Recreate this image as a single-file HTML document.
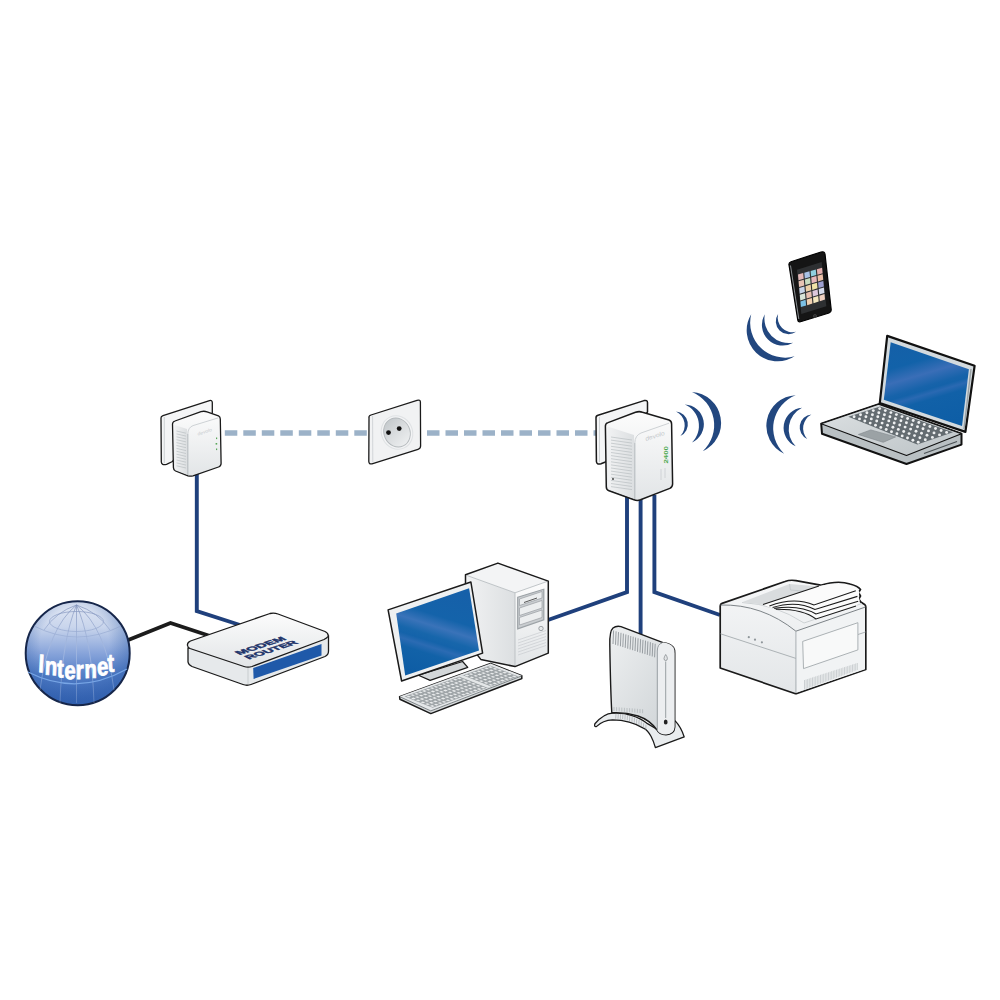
<!DOCTYPE html>
<html><head><meta charset="utf-8"><style>
html,body{margin:0;padding:0;background:#fff;overflow:hidden;}
svg{display:block;}
</style></head><body>
<svg width="1000" height="1000" viewBox="0 0 1000 1000">
<rect width="1000" height="1000" fill="#ffffff"/>
<defs>
<linearGradient id="globeG" x1="0" y1="0" x2="0" y2="1">
 <stop offset="0" stop-color="#e2e8f4"/>
 <stop offset="0.25" stop-color="#c9d5ec"/>
 <stop offset="0.5" stop-color="#88a4da"/>
 <stop offset="0.7" stop-color="#5580c8"/>
 <stop offset="1" stop-color="#3462b2"/>
</linearGradient>
<radialGradient id="globeR" cx="0.47" cy="0.4" r="0.55">
 <stop offset="0.6" stop-color="#2a5aa8" stop-opacity="0"/>
 <stop offset="1" stop-color="#2a5aa8" stop-opacity="0.45"/>
</radialGradient>
<linearGradient id="gridG" gradientUnits="userSpaceOnUse" x1="0" y1="603" x2="0" y2="705">
 <stop offset="0" stop-color="#7f90b8" stop-opacity="0.9"/>
 <stop offset="0.35" stop-color="#9aaed6" stop-opacity="0.8"/>
 <stop offset="0.6" stop-color="#c6d4ef" stop-opacity="0.5"/>
 <stop offset="1" stop-color="#c6d4ef" stop-opacity="0.3"/>
</linearGradient>
<linearGradient id="recG" x1="0.3" y1="0" x2="0.6" y2="1">
 <stop offset="0" stop-color="#c4c9cc"/>
 <stop offset="0.5" stop-color="#dadddf"/>
 <stop offset="1" stop-color="#eceeef"/>
</linearGradient>
<linearGradient id="whiteG" x1="0" y1="0" x2="0" y2="1">
 <stop offset="0" stop-color="#fcfcfc"/>
 <stop offset="1" stop-color="#e2e5e7"/>
</linearGradient>
<linearGradient id="sideG" x1="0" y1="0" x2="1" y2="0">
 <stop offset="0" stop-color="#f1f2f3"/>
 <stop offset="1" stop-color="#dcdfe1"/>
</linearGradient>
<linearGradient id="greyG" x1="0" y1="0" x2="1" y2="1">
 <stop offset="0" stop-color="#eef0f1"/>
 <stop offset="1" stop-color="#cdd2d5"/>
</linearGradient>
<linearGradient id="screenG" x1="0.35" y1="0" x2="0.65" y2="1">
 <stop offset="0" stop-color="#1460a8"/>
 <stop offset="0.22" stop-color="#1262a9"/>
 <stop offset="0.38" stop-color="#3a6eb7"/>
 <stop offset="0.52" stop-color="#1763aa"/>
 <stop offset="0.56" stop-color="#1462a9"/>
 <stop offset="0.61" stop-color="#2a69b2"/>
 <stop offset="0.68" stop-color="#1161a8"/>
 <stop offset="1" stop-color="#0e5ea6"/>
</linearGradient>
<linearGradient id="monG" x1="0.65" y1="0" x2="0.35" y2="1">
 <stop offset="0" stop-color="#1660a9"/>
 <stop offset="0.33" stop-color="#1463aa"/>
 <stop offset="0.45" stop-color="#3a73b9"/>
 <stop offset="0.56" stop-color="#1766ab"/>
 <stop offset="0.62" stop-color="#1463aa"/>
 <stop offset="0.68" stop-color="#2b6bb3"/>
 <stop offset="0.76" stop-color="#1262a8"/>
 <stop offset="1" stop-color="#0e5da5"/>
</linearGradient>
<linearGradient id="silverG" x1="0" y1="0" x2="1" y2="1">
 <stop offset="0" stop-color="#dde1e3"/>
 <stop offset="1" stop-color="#bcc3c6"/>
</linearGradient>
<linearGradient id="printG" x1="0" y1="0" x2="0" y2="1">
 <stop offset="0" stop-color="#f6f7f8"/>
 <stop offset="1" stop-color="#e3e6e8"/>
</linearGradient>
</defs>
<polyline points="127.0,640.5 170.5,623.0 210.0,636.0" fill="none" stroke="#1c1c1c" stroke-width="3.8"/>
<polyline points="196.8,470.0 196.8,611.0 240.0,625.0" fill="none" stroke="#1f407c" stroke-width="3.9"/>
<polyline points="627.0,495.0 627.0,592.0 548.0,620.0" fill="none" stroke="#1f407c" stroke-width="3.9"/>
<polyline points="640.6,495.0 640.6,634.0" fill="none" stroke="#1f407c" stroke-width="3.9"/>
<polyline points="654.4,495.0 654.4,592.0 720.0,615.0" fill="none" stroke="#1f407c" stroke-width="3.9"/>
<line x1="224.8" y1="433" x2="368" y2="433" stroke="#9cb2c8" stroke-width="5.5" stroke-dasharray="12.5 6"/>
<line x1="427" y1="433" x2="598" y2="433" stroke="#9cb2c8" stroke-width="5.5" stroke-dasharray="12.5 6"/>
<circle cx="77.7" cy="653.2" r="52" fill="url(#globeG)"/>
<circle cx="77.7" cy="653.2" r="52" fill="url(#globeR)" stroke="#16264a" stroke-width="2"/>
<g fill="none" stroke="url(#gridG)" stroke-width="0.8"><ellipse cx="76.5" cy="621.5" rx="27" ry="10"/><path d="M34,626 Q77,648 121,626"/><path d="M76.5,605 L76.5,703"/><path d="M76.5,605 Q62,640 60,703"/><path d="M76.5,605 Q92,640 94,703"/><path d="M76.5,605 Q48,628 40,690"/><path d="M76.5,605 Q106,628 114,690"/><path d="M76.5,605 Q56,612 44,630"/><path d="M76.5,605 Q98,612 110,630"/></g>
<path d="M28,672 Q77,697 127,669" fill="none" stroke="#78a6e6" stroke-width="1.2"/>
<text transform="scale(0.8,1)" x="47.35 55.50 70.94 80.26 94.57 105.50 121.51 134.69" y="672.00 674.50 677.25 679.00 679.40 678.00 675.50 672.00" rotate="4 3 2 1 0 -1 -2 -3" font-family="Liberation Sans" font-weight="bold" font-size="25.5" fill="#fff" stroke="#fff" stroke-width="0.8">Internet</text>
<path d="M188,648 L188,662 Q188.5,665 192,666.5 L243,684.5 Q247,686 251,684.5 L325,656.5 Q328.5,655 328.5,651 L328.5,636 Z" fill="#e6e9eb" stroke="#1a1a1a" stroke-width="1.3"/>
<path d="M187.5,645.5 Q187,642.5 190.5,641 L270,613.5 Q274,612.5 278,614 L325,631.5 Q329,633.5 328,636.5 Q327,638 324,639.5 L252,666.5 Q248,667.8 244,666.5 L190,648.5 Q187.8,647.5 187.5,645.5 Z" fill="url(#whiteG)" stroke="#1a1a1a" stroke-width="1.3"/>
<line x1="248" y1="668" x2="248" y2="684" stroke="#c0c5c8" stroke-width="0.8"/>
<polygon points="253.2,668.0 321.5,644.0 321.5,655.5 253.6,679.0" fill="#1f59a9"/>
<g font-family="Liberation Sans" font-weight="bold" font-size="9.3" fill="#1d3369" stroke="#1d3369" stroke-width="0.55"><text transform="matrix(0.95,-0.31,0.88,0.47,239.6,655)" textLength="50" lengthAdjust="spacingAndGlyphs">MODEM</text><text transform="matrix(0.95,-0.31,0.88,0.47,249,659.5)" textLength="52.5" lengthAdjust="spacingAndGlyphs">ROUTER</text></g>
<path d="M161,418 Q160.8,416.3 163,415.6 L209.5,400.6 Q212.2,399.9 212.3,402.5 L212.3,413 L172.5,461.5 L166.5,464.3 Q161.5,465.5 161.3,462 Z" fill="#f4f5f6" stroke="#1a1a1a" stroke-width="1.3" stroke-linejoin="round"/>
<path d="M172.5,424 Q172.5,421.8 175,421 L201,411.7 Q204,410.8 207,411.8 L218.5,415.8 Q220.3,416.5 220.3,419 L221.1,463.5 Q221.1,466 218.5,467 L193,475.8 Q190.5,476.6 188,475.8 L175.5,471 Q173.4,470 173.4,467.5 Z" fill="url(#whiteG)" stroke="#1a1a1a" stroke-width="1.3" stroke-linejoin="round"/>
<path d="M174.5,425 L187,429 L187,474.5 L175,469.5 Z" fill="url(#sideG)" stroke="none"/>
<path d="M176.5,431.0 L186,433.2 M176.5,433.9 L186,436.1 M176.5,436.8 L186,439.0 M176.5,439.7 L186,441.9 M176.5,442.6 L186,444.8 M176.5,445.5 L186,447.7 M176.5,448.4 L186,450.6 M176.5,451.3 L186,453.5 M176.5,454.2 L186,456.4 M176.5,457.1 L186,459.3 M176.5,460.0 L186,462.2 M176.5,462.9 L186,465.1 M176.5,465.8 L186,468.0 " fill="none" stroke="#b9bec2" stroke-width="0.7"/>
<path d="M187.8,475 L187.8,434" fill="none" stroke="#b3b9bd" stroke-width="1.1"/>
<path d="M187.8,434 Q188,427.5 193,425.6 L218.5,417.8" fill="none" stroke="#c8cdd0" stroke-width="0.9"/>
<line x1="164.3" y1="417" x2="164.3" y2="463" stroke="#c4c9cc" stroke-width="0.8"/>
<g fill="#5aa85a"><rect x="216" y="437.5" width="1.2" height="1.6"/><rect x="215.6" y="443" width="1.6" height="1.6"/><rect x="216" y="448.5" width="1.2" height="1.6"/></g>
<text font-family="Liberation Sans" font-style="italic" font-size="4.5" fill="#c6cacd" transform="translate(198,435.5) rotate(-18)" textLength="15" lengthAdjust="spacingAndGlyphs">devolo</text>
<path d="M596,418 Q595.8,416 598,415.3 L644,400.6 Q647.4,399.8 647.5,402.5 L647.5,412 L605.4,462 L601,463.8 Q596.6,465 596.4,461.5 Z" fill="#f4f5f6" stroke="#1a1a1a" stroke-width="1.5" stroke-linejoin="round"/>
<path d="M605.4,426 Q605.4,423.4 608,422.6 L635.5,412.3 Q639,411 642.5,412.2 L669,420 Q671.6,421 671.6,424 L672.6,484 Q672.6,487 669.8,488.4 L640.5,499.8 Q637.2,501 634,499.8 L609,490.8 Q606.3,489.8 606.3,487 Z" fill="url(#whiteG)" stroke="#1a1a1a" stroke-width="1.5" stroke-linejoin="round"/>
<path d="M607.5,426.5 L634,435 L634,498.5 L608,489 Z" fill="url(#sideG)" stroke="none"/>
<path d="M611,437.0 L632,440.0 M611,440.1 L632,443.1 M611,443.2 L632,446.2 M611,446.3 L632,449.3 M611,449.4 L632,452.4 M611,452.5 L632,455.5 M611,455.6 L632,458.6 M611,458.7 L632,461.7 M611,461.8 L632,464.8 M611,464.9 L632,467.9 M611,468.0 L632,471.0 M611,471.1 L632,474.1 M611,474.2 L632,477.2 M611,477.3 L632,480.3 M611,480.4 L632,483.4 M611,483.5 L632,486.5 M611,486.6 L632,489.6 " fill="none" stroke="#b9bec2" stroke-width="0.7"/>
<path d="M634.8,499 L634.8,443" fill="none" stroke="#b3b9bd" stroke-width="1.1"/>
<path d="M634.8,443 Q635,435.5 641,433 L669,423.2" fill="none" stroke="#c8cdd0" stroke-width="0.9"/>
<line x1="599.5" y1="417" x2="599.5" y2="462" stroke="#c4c9cc" stroke-width="0.8"/>
<text x="0" y="0" font-family="Liberation Sans" font-weight="bold" font-size="5.5" fill="#4aa84e" transform="translate(668.3,463.5) rotate(-90)" textLength="17.5" lengthAdjust="spacingAndGlyphs">2400</text>
<text font-family="Liberation Sans" font-style="italic" font-size="6" fill="#c3c7ca" transform="translate(646,441) rotate(-18)" textLength="20" lengthAdjust="spacingAndGlyphs">devolo</text>
<g fill="none" stroke="#c9cdd0" stroke-width="0.8"><path d="M661,469 L661,480"/><path d="M665,468 L665,478"/></g>
<circle cx="613" cy="479" r="0.9" fill="#333"/>
<path d="M369,418 Q368.5,415.8 371,415 L417,400.3 Q420.3,399.4 420.4,402 L420.6,446 Q420.6,448.5 418,449.3 L372,463.8 Q369,464.6 368.8,461.5 Z" fill="#f1f2f3" stroke="#1a1a1a" stroke-width="1.3"/>
<line x1="372.6" y1="416" x2="372.8" y2="462.5" stroke="#c9cdd0" stroke-width="0.8"/>
<ellipse cx="397" cy="432.5" rx="15.5" ry="17" transform="rotate(-25 397 432.5)" fill="#f3f4f5" stroke="#dfe2e4" stroke-width="1"/>
<ellipse cx="397" cy="432.5" rx="13" ry="14.8" transform="rotate(-25 397 432.5)" fill="url(#recG)" stroke="#b4b9bc" stroke-width="0.9"/>
<circle cx="388.5" cy="432.6" r="2.4" fill="#111"/><circle cx="399.2" cy="428.6" r="2.4" fill="#111"/>
<path d="M676.00,411.60 A12.80,12.80 0 0 1 680.40,436.00 A15.22,15.22 0 0 0 676.00,411.60Z" fill="#22477f"/>
<path d="M684.80,404.40 A19.85,19.85 0 0 1 692.00,442.40 A23.28,23.28 0 0 0 684.80,404.40Z" fill="#22477f"/>
<path d="M692.00,392.00 A31.00,31.00 0 0 1 702.80,451.20 A35.70,35.70 0 0 0 692.00,392.00Z" fill="#22477f"/>
<path d="M778.10,314.00 A12.81,12.81 0 0 0 796.00,331.80 A14.81,14.81 0 0 1 778.10,314.00Z" fill="#22477f"/>
<path d="M764.80,314.30 A20.74,20.74 0 0 0 793.20,342.70 A24.46,24.46 0 0 1 764.80,314.30Z" fill="#22477f"/>
<path d="M751.20,314.30 A30.96,30.96 0 0 0 794.60,356.30 A34.88,34.88 0 0 1 751.20,314.30Z" fill="#22477f"/>
<path d="M811.40,414.50 A12.85,12.85 0 0 0 807.20,439.00 A15.73,15.73 0 0 1 811.40,414.50Z" fill="#22477f"/>
<path d="M802.00,407.80 A20.12,20.12 0 0 0 795.70,446.30 A24.07,24.07 0 0 1 802.00,407.80Z" fill="#22477f"/>
<path d="M795.70,395.20 A30.70,30.70 0 0 0 784.10,453.70 A35.37,35.37 0 0 1 795.70,395.20Z" fill="#22477f"/>
<path d="M789,265 Q788.5,262.5 791,261.7 L821,252 Q824.5,251 825,254 L831.2,309.5 Q831.5,312 829,313 L800.5,321.7 Q798,322.4 797.7,319.6 Z" fill="#151515" stroke="#000" stroke-width="1.2"/>
<path d="M790.5,265.5 L798.8,319" stroke="#8a8f92" stroke-width="1"/>
<polygon points="797.0,269.7 821.7,262.0 826.3,306.2 801.3,313.9" fill="#2e3032"/>
<polygon points="798.0,274.6 803.2,273.1 803.7,278.7 798.5,280.2" fill="#e3b8b8"/>
<polygon points="804.3,272.8 809.5,271.3 810.0,276.9 804.8,278.4" fill="#a9c2e6"/>
<polygon points="810.6,271.0 815.8,269.5 816.3,275.0 811.1,276.6" fill="#8fcfe0"/>
<polygon points="816.9,269.2 822.1,267.7 822.6,273.2 817.4,274.8" fill="#e4b0b0"/>
<polygon points="798.6,281.3 803.8,279.8 804.3,285.4 799.1,287.0" fill="#e8c4b4"/>
<polygon points="804.9,279.5 810.1,277.9 810.6,283.5 805.4,285.1" fill="#c8dcc0"/>
<polygon points="811.2,277.6 816.4,276.1 816.9,281.7 811.7,283.2" fill="#e6b8bc"/>
<polygon points="817.5,275.8 822.7,274.3 823.2,279.8 818.0,281.4" fill="#ecc0a8"/>
<polygon points="799.2,288.0 804.4,286.5 804.9,292.1 799.7,293.7" fill="#c8d4e8"/>
<polygon points="805.5,286.2 810.7,284.6 811.2,290.2 806.0,291.8" fill="#ecd0a8"/>
<polygon points="811.8,284.3 817.0,282.7 817.5,288.3 812.3,289.9" fill="#f0e4a8"/>
<polygon points="818.1,282.4 823.3,280.9 823.8,286.4 818.6,288.0" fill="#9ea0d0"/>
<polygon points="799.8,294.7 805.0,293.2 805.5,298.8 800.3,300.4" fill="#d8e4d8"/>
<polygon points="806.1,292.9 811.3,291.3 811.8,296.9 806.6,298.5" fill="#e8c0b0"/>
<polygon points="812.4,291.0 817.6,289.4 818.1,294.9 812.9,296.6" fill="#dcc8dc"/>
<polygon points="818.7,289.1 823.9,287.5 824.4,293.0 819.2,294.6" fill="#d8dcec"/>
<polygon points="800.4,301.5 805.6,299.8 806.1,305.5 800.9,307.1" fill="#7cc0e4"/>
<polygon points="806.7,299.5 811.9,297.9 812.4,303.5 807.2,305.2" fill="#f0d0b0"/>
<polygon points="813.0,297.6 818.2,296.0 818.7,301.6 813.5,303.2" fill="#f4e8c0"/>
<polygon points="819.3,295.7 824.5,294.1 825.0,299.6 819.8,301.3" fill="#f0d0c0"/>
<circle cx="815" cy="316" r="1.6" fill="#2a2a2a" stroke="#555" stroke-width="0.5"/>
<polygon points="821.2,423.7 878.6,404.3 961.5,433.8 961.5,444.6 906.5,464.0 822.0,433.8" fill="#b9c0c3" stroke="#111" stroke-width="2" stroke-linejoin="round"/>
<polygon points="821.2,423.7 878.6,404.3 961.5,433.8 906.5,455.5" fill="url(#silverG)" stroke="#111" stroke-width="1.1" stroke-linejoin="round"/>
<path d="M924,453.5 L957,441.5" stroke="#4a5054" stroke-width="1.1"/>
<polygon points="887.2,335.9 974.6,365.8 965.4,431.9 879.8,403.0" fill="#d3dade" stroke="#111" stroke-width="2.2" stroke-linejoin="round"/>
<polygon points="890.7,342.2 968.9,369.3 962.0,426.1 883.8,399.7" fill="url(#screenG)"/>
<path d="M971,369 L964,429" stroke="#99a1a5" stroke-width="1.4"/>
<polygon points="880.1,406.6 953.0,432.2 917.3,444.6 848.3,416.7" fill="#646c71"/>
<g fill="#eef0f1"><circle cx="879.7" cy="408.6" r="1.45"/><circle cx="873.3" cy="410.6" r="1.45"/><circle cx="866.9" cy="412.7" r="1.45"/><circle cx="860.5" cy="414.7" r="1.45"/><circle cx="854.1" cy="416.8" r="1.45"/><circle cx="885.3" cy="410.6" r="1.45"/><circle cx="878.8" cy="412.7" r="1.45"/><circle cx="872.4" cy="414.7" r="1.45"/><circle cx="865.9" cy="416.8" r="1.45"/><circle cx="859.5" cy="418.9" r="1.45"/><circle cx="890.9" cy="412.6" r="1.45"/><circle cx="884.4" cy="414.7" r="1.45"/><circle cx="877.8" cy="416.8" r="1.45"/><circle cx="871.3" cy="418.9" r="1.45"/><circle cx="864.8" cy="421.0" r="1.45"/><circle cx="896.4" cy="414.6" r="1.45"/><circle cx="889.9" cy="416.7" r="1.45"/><circle cx="883.3" cy="418.9" r="1.45"/><circle cx="876.7" cy="421.0" r="1.45"/><circle cx="870.2" cy="423.1" r="1.45"/><circle cx="902.0" cy="416.6" r="1.45"/><circle cx="895.4" cy="418.7" r="1.45"/><circle cx="888.8" cy="420.9" r="1.45"/><circle cx="882.1" cy="423.1" r="1.45"/><circle cx="875.5" cy="425.3" r="1.45"/><circle cx="907.6" cy="418.5" r="1.45"/><circle cx="900.9" cy="420.8" r="1.45"/><circle cx="894.2" cy="423.0" r="1.45"/><circle cx="887.5" cy="425.2" r="1.45"/><circle cx="880.8" cy="427.4" r="1.45"/><circle cx="913.2" cy="420.5" r="1.45"/><circle cx="906.4" cy="422.8" r="1.45"/><circle cx="899.7" cy="425.0" r="1.45"/><circle cx="892.9" cy="427.3" r="1.45"/><circle cx="886.2" cy="429.5" r="1.45"/><circle cx="918.8" cy="422.5" r="1.45"/><circle cx="911.9" cy="424.8" r="1.45"/><circle cx="905.1" cy="427.1" r="1.45"/><circle cx="898.3" cy="429.4" r="1.45"/><circle cx="891.5" cy="431.7" r="1.45"/><circle cx="924.3" cy="424.5" r="1.45"/><circle cx="917.5" cy="426.8" r="1.45"/><circle cx="910.6" cy="429.1" r="1.45"/><circle cx="903.7" cy="431.5" r="1.45"/><circle cx="896.9" cy="433.8" r="1.45"/><circle cx="929.9" cy="426.5" r="1.45"/><circle cx="923.0" cy="428.8" r="1.45"/><circle cx="916.0" cy="431.2" r="1.45"/><circle cx="909.1" cy="433.6" r="1.45"/><circle cx="902.2" cy="435.9" r="1.45"/><circle cx="935.5" cy="428.5" r="1.45"/><circle cx="928.5" cy="430.9" r="1.45"/><circle cx="921.5" cy="433.3" r="1.45"/><circle cx="914.5" cy="435.6" r="1.45"/><circle cx="907.5" cy="438.0" r="1.45"/><circle cx="941.1" cy="430.5" r="1.45"/><circle cx="934.0" cy="432.9" r="1.45"/><circle cx="927.0" cy="435.3" r="1.45"/><circle cx="919.9" cy="437.7" r="1.45"/><circle cx="912.9" cy="440.2" r="1.45"/><circle cx="946.6" cy="432.4" r="1.45"/><circle cx="939.5" cy="434.9" r="1.45"/><circle cx="932.4" cy="437.4" r="1.45"/><circle cx="925.3" cy="439.8" r="1.45"/><circle cx="918.2" cy="442.3" r="1.45"/></g>
<polygon points="858.4,434.5 870.8,429.9 895.6,436.9 883.2,442.3" fill="#9ba2a5" stroke="#7d8589" stroke-width="0.6"/>
<polygon points="465.5,574.8 515.0,592.8 515.0,666.6 480.8,659.4 465.5,640.0" fill="url(#sideG)"/>
<polygon points="515.0,592.8 548.3,581.1 548.3,653.1 515.0,666.6" fill="url(#whiteG)"/>
<polygon points="465.5,574.8 497.9,563.1 548.3,581.1 515.0,592.8" fill="#f3f4f5"/>
<path d="M467,575.5 L515,592.8 L547,581.5 M515,592.8 L515,666" fill="none" stroke="#b9bec2" stroke-width="0.9"/>
<polygon points="465.5,574.8 497.9,563.1 548.3,581.1 548.3,653.1 515.0,666.6 480.8,659.4 465.5,640.0" fill="none" stroke="#1a1a1a" stroke-width="1.5" stroke-linejoin="round"/>
<polygon points="517.7,597.3 543.8,589.2 543.8,619.8 517.7,628.8" fill="#c9cdd0" stroke="#9ca2a6" stroke-width="1.2"/>
<polygon points="519.5,599.0 542.0,591.5 542.0,598.0 519.5,605.5" fill="#eceeef" stroke="#8e9498" stroke-width="0.6"/>
<polygon points="519.5,608.0 542.0,600.5 542.0,608.0 519.5,615.5" fill="#eceeef" stroke="#8e9498" stroke-width="0.6"/>
<polygon points="519.5,617.5 542.0,610.0 542.0,617.5 519.5,625.0" fill="#eceeef" stroke="#8e9498" stroke-width="0.6"/>
<path d="M524,602.5 L537,598" stroke="#555" stroke-width="1"/>
<circle cx="541" cy="628.5" r="2.2" fill="#e8eaeb" stroke="#8a9094" stroke-width="0.8"/>
<g stroke="#c8ccd0" stroke-width="0.7"><line x1="518" y1="640.0" x2="546" y2="630.5"/><line x1="518" y1="643.0" x2="546" y2="633.5"/><line x1="518" y1="646.0" x2="546" y2="636.5"/><line x1="518" y1="649.0" x2="546" y2="639.5"/><line x1="518" y1="652.0" x2="546" y2="642.5"/><line x1="518" y1="655.0" x2="546" y2="645.5"/></g>
<polygon points="418.4,675.2 462.6,661.5 467.8,667.4 430.1,680.4" fill="#d3d7d9" stroke="#1a1a1a" stroke-width="1.2" stroke-linejoin="round"/>
<polygon points="388.1,609.9 470.9,582.0 482.6,653.1 401.6,681.0" fill="#eef0f1" stroke="#1a1a1a" stroke-width="1.5" stroke-linejoin="round"/>
<polygon points="396.2,613.5 469.1,588.3 479.0,650.4 405.2,675.6" fill="url(#monG)"/>
<polygon points="399.6,696.6 490.6,663.5 521.8,675.8 521.8,678.6 430.8,713.6 399.9,699.3" fill="#d5d9db" stroke="#1a1a1a" stroke-width="1.5" stroke-linejoin="round"/>
<polygon points="399.6,696.6 490.6,663.5 521.8,675.8 430.8,710.9" fill="#e4e7e9"/>
<path d="M400,696.8 L430.8,710.9 L521.5,676" fill="none" stroke="#555b5f" stroke-width="0.7"/>
<polygon points="404.5,696.4 490.0,665.4 518.5,676.5 432.7,707.7" fill="#9fa5a8"/>
<path d="M406.4,696.5 L408.6,695.7 L411.2,696.8 L409.0,697.5Z M411.1,698.4 L413.3,697.6 L415.9,698.6 L413.7,699.4Z M415.8,700.3 L418.0,699.5 L420.6,700.5 L418.4,701.3Z M420.5,702.2 L422.7,701.4 L425.3,702.4 L423.1,703.2Z M425.2,704.0 L427.4,703.3 L430.0,704.3 L427.8,705.1Z M429.9,705.9 L432.1,705.1 L434.7,706.2 L432.5,707.0Z M410.3,695.1 L412.5,694.3 L415.0,695.4 L412.9,696.1Z M415.0,697.0 L417.2,696.2 L419.7,697.2 L417.6,698.0Z M419.7,698.9 L421.9,698.1 L424.5,699.1 L422.3,699.9Z M424.4,700.7 L426.6,700.0 L429.2,701.0 L427.0,701.8Z M429.1,702.6 L431.3,701.8 L433.9,702.9 L431.7,703.7Z M433.8,704.5 L436.0,703.7 L438.6,704.8 L436.4,705.5Z M414.2,693.7 L416.3,692.9 L418.9,693.9 L416.8,694.7Z M418.9,695.6 L421.0,694.8 L423.6,695.8 L421.5,696.6Z M423.6,697.4 L425.8,696.7 L428.3,697.7 L426.2,698.5Z M428.3,699.3 L430.5,698.5 L433.1,699.6 L430.9,700.4Z M433.0,701.2 L435.2,700.4 L437.8,701.5 L435.6,702.2Z M437.7,703.1 L439.9,702.3 L442.5,703.3 L440.3,704.1Z M418.1,692.3 L420.2,691.5 L422.8,692.5 L420.7,693.3Z M422.8,694.2 L424.9,693.4 L427.5,694.4 L425.4,695.2Z M427.5,696.0 L429.6,695.3 L432.2,696.3 L430.1,697.1Z M432.2,697.9 L434.4,697.1 L436.9,698.2 L434.8,698.9Z M436.9,699.8 L439.1,699.0 L441.7,700.0 L439.5,700.8Z M441.6,701.7 L443.8,700.9 L446.4,701.9 L444.2,702.7Z M422.0,690.9 L424.1,690.1 L426.7,691.1 L424.6,691.9Z M426.7,692.7 L428.8,692.0 L431.4,693.0 L429.3,693.8Z M431.4,694.6 L433.5,693.8 L436.1,694.9 L434.0,695.7Z M436.1,696.5 L438.2,695.7 L440.8,696.8 L438.7,697.5Z M440.8,698.4 L443.0,697.6 L445.6,698.6 L443.4,699.4Z M445.5,700.3 L447.7,699.5 L450.3,700.5 L448.1,701.3Z M425.9,689.5 L428.0,688.7 L430.6,689.7 L428.5,690.5Z M430.6,691.3 L432.7,690.6 L435.3,691.6 L433.2,692.4Z M435.3,693.2 L437.4,692.4 L440.0,693.5 L437.9,694.2Z M440.0,695.1 L442.1,694.3 L444.7,695.3 L442.6,696.1Z M444.7,697.0 L446.9,696.2 L449.4,697.2 L447.3,698.0Z M449.4,698.8 L451.6,698.1 L454.2,699.1 L452.0,699.9Z M429.8,688.1 L431.9,687.3 L434.5,688.3 L432.3,689.1Z M434.5,689.9 L436.6,689.1 L439.2,690.2 L437.1,691.0Z M439.2,691.8 L441.3,691.0 L443.9,692.1 L441.8,692.8Z M443.9,693.7 L446.0,692.9 L448.6,693.9 L446.5,694.7Z M448.6,695.5 L450.8,694.8 L453.3,695.8 L451.2,696.6Z M453.3,697.4 L455.5,696.6 L458.1,697.7 L455.9,698.5Z M433.6,686.6 L435.8,685.9 L438.4,686.9 L436.2,687.7Z M438.4,688.5 L440.5,687.7 L443.1,688.8 L441.0,689.5Z M443.1,690.4 L445.2,689.6 L447.8,690.6 L445.7,691.4Z M447.8,692.3 L449.9,691.5 L452.5,692.5 L450.4,693.3Z M452.5,694.1 L454.6,693.4 L457.2,694.4 L455.1,695.2Z M457.2,696.0 L459.4,695.2 L462.0,696.3 L459.8,697.0Z M437.5,685.2 L439.7,684.5 L442.3,685.5 L440.1,686.3Z M442.2,687.1 L444.4,686.3 L447.0,687.4 L444.8,688.1Z M447.0,689.0 L449.1,688.2 L451.7,689.2 L449.6,690.0Z M451.7,690.8 L453.8,690.1 L456.4,691.1 L454.3,691.9Z M456.4,692.7 L458.5,691.9 L461.1,693.0 L459.0,693.7Z M461.1,694.6 L463.3,693.8 L465.9,694.8 L463.7,695.6Z M441.4,683.8 L443.6,683.0 L446.1,684.1 L444.0,684.8Z M446.1,685.7 L448.3,684.9 L450.9,685.9 L448.7,686.7Z M450.9,687.6 L453.0,686.8 L455.6,687.8 L453.5,688.6Z M455.6,689.4 L457.7,688.7 L460.3,689.7 L458.2,690.5Z M460.3,691.3 L462.4,690.5 L465.0,691.5 L462.9,692.3Z M465.0,693.2 L467.2,692.4 L469.8,693.4 L467.6,694.2Z M445.3,682.4 L447.4,681.6 L450.0,682.7 L447.9,683.4Z M450.0,684.3 L452.2,683.5 L454.8,684.5 L452.6,685.3Z M454.7,686.1 L456.9,685.4 L459.5,686.4 L457.3,687.2Z M459.5,688.0 L461.6,687.2 L464.2,688.3 L462.1,689.0Z M464.2,689.9 L466.3,689.1 L468.9,690.1 L466.8,690.9Z M468.9,691.8 L471.1,691.0 L473.7,692.0 L471.5,692.8Z M449.2,681.0 L451.3,680.2 L453.9,681.3 L451.8,682.0Z M453.9,682.9 L456.1,682.1 L458.7,683.1 L456.5,683.9Z M458.6,684.7 L460.8,684.0 L463.4,685.0 L461.2,685.8Z M463.4,686.6 L465.5,685.8 L468.1,686.9 L466.0,687.6Z M468.1,688.5 L470.2,687.7 L472.8,688.7 L470.7,689.5Z M472.8,690.3 L475.0,689.6 L477.6,690.6 L475.4,691.4Z M453.1,679.6 L455.2,678.8 L457.8,679.8 L455.7,680.6Z M457.8,681.5 L459.9,680.7 L462.5,681.7 L460.4,682.5Z M462.5,683.3 L464.7,682.5 L467.3,683.6 L465.1,684.3Z M467.3,685.2 L469.4,684.4 L472.0,685.4 L469.9,686.2Z M472.0,687.1 L474.1,686.3 L476.7,687.3 L474.6,688.1Z M476.7,688.9 L478.9,688.1 L481.5,689.2 L479.3,689.9Z M457.0,678.2 L459.1,677.4 L461.7,678.4 L459.6,679.2Z M461.7,680.0 L463.8,679.3 L466.4,680.3 L464.3,681.1Z M466.4,681.9 L468.6,681.1 L471.2,682.2 L469.0,682.9Z M471.2,683.8 L473.3,683.0 L475.9,684.0 L473.8,684.8Z M475.9,685.6 L478.0,684.9 L480.6,685.9 L478.5,686.7Z M480.6,687.5 L482.8,686.7 L485.4,687.7 L483.2,688.5Z M460.8,676.8 L463.0,676.0 L465.6,677.0 L463.5,677.8Z M465.6,678.6 L467.7,677.9 L470.3,678.9 L468.2,679.7Z M470.3,680.5 L472.5,679.7 L475.1,680.7 L472.9,681.5Z M475.0,682.4 L477.2,681.6 L479.8,682.6 L477.6,683.4Z M479.8,684.2 L481.9,683.4 L484.5,684.5 L482.4,685.2Z M484.5,686.1 L486.7,685.3 L489.3,686.3 L487.1,687.1Z M464.7,675.4 L466.9,674.6 L469.5,675.6 L467.3,676.4Z M469.5,677.2 L471.6,676.4 L474.2,677.5 L472.1,678.2Z M474.2,679.1 L476.3,678.3 L478.9,679.3 L476.8,680.1Z M478.9,680.9 L481.1,680.2 L483.7,681.2 L481.5,682.0Z M483.7,682.8 L485.8,682.0 L488.4,683.1 L486.3,683.8Z M488.4,684.7 L490.6,683.9 L493.2,684.9 L491.0,685.7Z M468.6,674.0 L470.8,673.2 L473.4,674.2 L471.2,675.0Z M473.4,675.8 L475.5,675.0 L478.1,676.1 L476.0,676.8Z M478.1,677.7 L480.2,676.9 L482.8,677.9 L480.7,678.7Z M482.8,679.5 L485.0,678.8 L487.6,679.8 L485.4,680.6Z M487.6,681.4 L489.7,680.6 L492.3,681.6 L490.2,682.4Z M492.3,683.2 L494.5,682.5 L497.1,683.5 L494.9,684.3Z M472.5,672.5 L474.6,671.8 L477.3,672.8 L475.1,673.6Z M477.2,674.4 L479.4,673.6 L482.0,674.6 L479.9,675.4Z M482.0,676.3 L484.1,675.5 L486.7,676.5 L484.6,677.3Z M486.7,678.1 L488.9,677.3 L491.5,678.4 L489.3,679.1Z M491.5,680.0 L493.6,679.2 L496.2,680.2 L494.1,681.0Z M496.2,681.8 L498.3,681.1 L501.0,682.1 L498.8,682.9Z M476.4,671.1 L478.5,670.4 L481.1,671.4 L479.0,672.2Z M481.1,673.0 L483.3,672.2 L485.9,673.2 L483.7,674.0Z M485.9,674.8 L488.0,674.1 L490.6,675.1 L488.5,675.9Z M490.6,676.7 L492.8,675.9 L495.4,676.9 L493.2,677.7Z M495.4,678.6 L497.5,677.8 L500.1,678.8 L498.0,679.6Z M500.1,680.4 L502.2,679.6 L504.9,680.7 L502.7,681.4Z M480.3,669.7 L482.4,669.0 L485.0,670.0 L482.9,670.7Z M485.0,671.6 L487.2,670.8 L489.8,671.8 L487.6,672.6Z M489.8,673.4 L491.9,672.7 L494.5,673.7 L492.4,674.5Z M494.5,675.3 L496.7,674.5 L499.3,675.5 L497.1,676.3Z M499.3,677.1 L501.4,676.4 L504.0,677.4 L501.9,678.2Z M504.0,679.0 L506.1,678.2 L508.8,679.2 L506.6,680.0Z M484.2,668.3 L486.3,667.5 L488.9,668.6 L486.8,669.3Z M488.9,670.2 L491.1,669.4 L493.7,670.4 L491.5,671.2Z M493.7,672.0 L495.8,671.2 L498.4,672.3 L496.3,673.0Z M498.4,673.9 L500.5,673.1 L503.2,674.1 L501.0,674.9Z M503.2,675.7 L505.3,675.0 L507.9,676.0 L505.8,676.7Z M507.9,677.6 L510.0,676.8 L512.7,677.8 L510.5,678.6Z M488.1,666.9 L490.2,666.1 L492.8,667.2 L490.7,667.9Z M492.8,668.8 L494.9,668.0 L497.6,669.0 L495.4,669.8Z M497.6,670.6 L499.7,669.8 L502.3,670.9 L500.2,671.6Z M502.3,672.5 L504.4,671.7 L507.1,672.7 L504.9,673.5Z M507.0,674.3 L509.2,673.5 L511.8,674.6 L509.7,675.3Z M511.8,676.2 L513.9,675.4 L516.6,676.4 L514.4,677.2Z" fill="#e8eaeb" />
<polygon points="459.2,676.6 462.6,675.3 491.0,686.5 487.6,687.7" fill="#e4e7e8"/>
<path d="M594.9,723.7 C600,718 607,713.5 612.5,713.2 C620,712.5 626,713.5 631.2,715.4 C638,717.5 643,720 646.6,723.1 L660,731 L675.2,720.9 Q681,727 684.2,736.9 L655.4,747.6 Q653.5,741 651,736.3 C648,731 646.5,729.5 644.4,728.6 C636,723.5 626,719.8 612.5,719.8 C605,720 600,723 596.3,726.6 Q593.8,727 594.9,723.7 Z" fill="#e9ecee" stroke="#1a1a1a" stroke-width="1.3" stroke-linejoin="round"/>
<path d="M616.0,713.5 L615.7,718.7 M618.3,713.6 L618.0,718.8 M620.6,713.8 L620.3,719.0 M622.9,714.1 L622.6,719.3 M625.2,714.5 L624.9,719.7 M627.5,715.1 L627.2,720.3 M629.8,715.8 L629.5,721.0 M632.2,716.7 L631.9,721.9 M634.5,717.7 L634.2,722.9 M636.8,718.8 L636.5,724.0 M639.1,720.0 L638.8,725.2 M641.4,721.4 L641.1,726.6 M643.7,722.9 L643.4,728.1 M646.0,724.5 L645.7,729.7 " stroke="#9aa0a4" stroke-width="0.6"/>
<path d="M609.8,645 Q609.5,631 613,628 Q616,625.6 621,626.6 L663,642.6 Q670,643 673.5,647.5 Q674.8,649.5 674.8,653 L674.8,727 Q674.3,734.5 666,734.8 Q659,734.5 657,730 Q650,720 638,716 Q625,712 611.8,712.8 Q610.5,690 609.8,645 Z" fill="url(#greyG)" stroke="#1a1a1a" stroke-width="1.4" stroke-linejoin="round"/>
<path d="M657.3,651 Q657.5,643.5 663,642.6 Q670,643 673.5,647.5 Q674.6,649.5 674.6,653 L674.6,727 Q674.3,734 666,734.5 Q659,734.3 657.3,730 Z" fill="#eceef0"/>
<path d="M657.3,731 L657.3,651 Q657.5,644 662,643" fill="none" stroke="#8e959a" stroke-width="0.9"/>
<path d="M665.7,661.5 L665.7,718" stroke="#8f969a" stroke-width="0.9"/>
<path d="M665.7,654.5 Q667.4,657 667.4,658.5 Q667.4,660.6 665.7,660.6 Q664,660.6 664,658.5 Q664,657 665.7,654.5 Z" fill="#e2e4e6" stroke="#6d7377" stroke-width="0.6"/><ellipse cx="665.7" cy="722" rx="1.9" ry="2.5" fill="#222"/>
<path d="M613.6,630.5 L613.0,644.0 M616.1,631.3 L615.5,644.8 M618.5,632.1 L617.9,645.6 M621.0,632.8 L620.4,646.3 M623.4,633.6 L622.8,647.1 M625.9,634.4 L625.2,647.9 M628.3,635.2 L627.7,648.7 M630.8,636.0 L630.1,649.5 M633.2,636.7 L632.6,650.2 M635.6,637.5 L635.0,651.0 M638.1,638.3 L637.5,651.8 M640.6,639.1 L640.0,652.6 M643.0,639.9 L642.4,653.4 M645.5,640.6 L644.9,654.1 M647.9,641.4 L647.3,654.9 M650.4,642.2 L649.8,655.7 M652.8,643.0 L652.2,656.5 M655.2,643.8 L654.6,657.3 " stroke="#7d848a" stroke-width="0.75"/>
<path d="M614.0,707.0 L614.0,711.0 M616.6,707.2 L616.6,711.2 M619.2,707.4 L619.2,711.4 M621.8,707.6 L621.8,711.6 M624.4,707.8 L624.4,711.8 M627.0,708.0 L627.0,712.0 M629.6,708.2 L629.6,712.2 M632.2,708.4 L632.2,712.4 M634.8,708.6 L634.8,712.6 M637.4,708.8 L637.4,712.8 M640.0,709.0 L640.0,713.0 M642.6,709.2 L642.6,713.2 " stroke="#a3a9ad" stroke-width="0.6"/>
<path d="M720.2,606 Q720.2,604 722,603.4 L785,581.5 Q790,579.6 796,580.6 L820.6,585.2 Q838,580 850,584 Q858,586 860.5,589.5 L858.5,592.5 L860.5,596 L858.8,599 L860.8,602 L865,604.8 Q865.8,605.5 865.8,607 L865.8,669.5 L797,693.5 Q795.9,693.9 794.8,693.5 L720.2,668 Z" fill="url(#printG)" stroke="#1a1a1a" stroke-width="1.7" stroke-linejoin="round"/>
<polygon points="796.6,631.5 865.0,607.5 865.0,669.3 796.6,692.6" fill="#f1f3f4"/>
<path d="M795.9,631.5 L795.9,692.5" stroke="#aab0b4" stroke-width="1"/>
<path d="M720.5,605 Q762,604 795.9,631.2 L865.5,607" fill="none" stroke="#6f767a" stroke-width="0.9"/>
<path d="M742,602.5 Q775,604 804,623 L862,603.5" fill="none" stroke="#c4c9cc" stroke-width="0.8"/>
<path d="M742,602.2 L789.5,584 L819,586.5 L772,606 Q757,603.5 742,602.2 Z" fill="#d9dcde"/>
<path d="M789.5,584 L790.5,590 L815,592" fill="none" stroke="#bfc4c7" stroke-width="0.7"/>
<path d="M763,604.4 L819,586 Q840,581.5 856,587.5 L859.5,592 L858.6,596.4 L859.8,601 L856,606 L816,619.5 Q808,610 798,609.5 Q784,609 775.8,609.2 Q768,607 763,604.4 Z" fill="#fbfbfb"/>
<path d="M763,604.4 L819,586" stroke="#1a1a1a" stroke-width="1.1"/>
<path d="M769.4,606 C785,600 800,599 814,605 L855.8,590.8" fill="none" stroke="#1a1a1a" stroke-width="1.1"/>
<path d="M772.6,607.6 C787,603 802,603 815,609.5 L857.4,596.4" fill="none" stroke="#1a1a1a" stroke-width="1.1"/>
<path d="M774.2,608.4 C789,606 804,607 816,614 L858.2,601.2" fill="none" stroke="#1a1a1a" stroke-width="1.1"/>
<path d="M775.8,609.2 C791,609 806,611 816,619 L856,606" fill="none" stroke="#1a1a1a" stroke-width="1.1"/>
<line x1="720.5" y1="633.8" x2="795.9" y2="658.4" stroke="#a5abaf" stroke-width="0.9"/>
<line x1="858" y1="634.5" x2="865.5" y2="632" stroke="#a5abaf" stroke-width="0.9"/>
<polygon points="802.7,641.4 857.9,622.7 857.9,649.9 803.5,668.6" fill="#f8f9f9" stroke="#a3a9ad" stroke-width="0.9"/>
<g fill="#8f969a"><circle cx="748.8" cy="637.2" r="1.1"/><circle cx="755" cy="639.7" r="1.1"/><circle cx="761.9" cy="642.3" r="1.1"/></g>
<path d="M804.5,680.0 L804.5,689.5 M806.1,679.5 L806.1,688.9 M807.7,679.0 L807.7,688.3 M809.3,678.5 L809.3,687.7 M810.9,677.9 L810.9,687.1 M812.5,677.4 L812.5,686.5 M814.1,676.9 L814.1,686.0 M815.7,676.4 L815.7,685.4 M817.3,675.9 L817.3,684.8 M818.9,675.4 L818.9,684.2 M820.5,674.8 L820.5,683.6 M822.1,674.3 L822.1,683.0 M823.7,673.8 L823.7,682.4 M825.3,673.3 L825.3,681.8 M826.9,672.8 L826.9,681.2 M828.5,672.3 L828.5,680.6 M830.1,671.8 L830.1,680.0 M831.7,671.2 L831.7,679.5 M833.3,670.7 L833.3,678.9 M834.9,670.2 L834.9,678.3 M836.5,669.7 L836.5,677.7 M838.1,669.2 L838.1,677.1 M839.7,668.7 L839.7,676.5 M841.3,668.2 L841.3,675.9 M842.9,667.6 L842.9,675.3 M844.5,667.1 L844.5,674.7 M846.1,666.6 L846.1,674.1 M847.7,666.1 L847.7,673.5 M849.3,665.6 L849.3,673.0 M850.9,665.1 L850.9,672.4 M852.5,664.5 L852.5,671.8 M854.1,664.0 L854.1,671.2 M855.7,663.5 L855.7,670.6 M857.3,663.0 L857.3,670.0 " stroke="#b3b8bc" stroke-width="0.6"/>
</svg>
</body></html>
